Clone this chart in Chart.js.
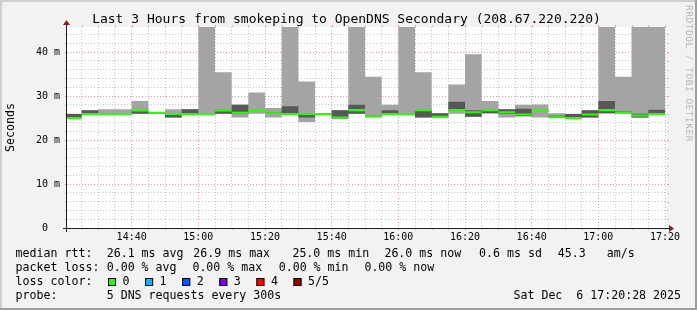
<!DOCTYPE html>
<html>
<head>
<meta charset="UTF-8">
<title>smokeping - OpenDNS Secondary</title>
<script src="https://cdn.jsdelivr.net/npm/chart.js@4.4.0/dist/chart.umd.min.js"></script>
<style>
  html, body { margin: 0; padding: 0; background: #f2f2f2; }
  canvas { display: block; }
</style>
</head>
<body>
<canvas id="graph" width="697" height="310"></canvas>
<script>
// one slot every 5 minutes, 5 DNS pings per slot sorted low -> high (ms)
const slots = ['14:20','14:25','14:30','14:35','14:40','14:45','14:50','14:55',
  '15:00','15:05','15:10','15:15','15:20','15:25','15:30','15:35',
  '15:40','15:45','15:50','15:55','16:00','16:05','16:10','16:15',
  '16:20','16:25','16:30','16:35','16:40','16:45','16:50','16:55',
  '17:00','17:05','17:10','17:15'];

const ping1  = [24.8,25.7,25.8,25.8,26.0,26.0,25.1,25.8,25.8,26.0,25.1,26.0,25.1,25.8,24.1,25.7,
                24.9,26.0,25.2,25.8,25.8,25.1,25.1,26.0,25.3,26.1,25.1,25.4,25.1,25.1,24.9,25.1,
                26.1,26.1,25.1,25.8];
const ping2  = [24.9,25.8,25.8,25.8,26.0,26.1,25.1,25.8,25.8,26.0,26.0,26.7,26.0,25.8,25.1,25.8,
                24.9,26.0,25.3,25.8,25.8,25.1,25.1,26.6,25.3,26.1,26.0,25.4,26.7,25.1,24.9,25.1,
                26.1,26.1,25.1,25.8];
const median = [25.0,25.9,25.9,25.9,26.7,26.2,25.9,25.9,25.9,26.7,26.2,26.8,26.1,25.9,25.9,25.9,
                25.1,26.8,25.4,25.9,25.9,26.8,25.3,26.8,26.3,26.8,26.3,25.8,26.8,25.2,25.0,25.8,
                26.8,26.2,25.6,25.9];
const ping4  = [25.9,26.8,26.0,26.0,26.8,26.3,26.1,27.0,26.1,26.9,28.0,26.9,26.3,27.7,26.1,26.0,
                26.8,28.0,25.6,26.8,26.1,26.9,26.1,28.7,26.8,26.9,27.0,27.1,27.0,25.5,25.9,26.8,
                28.9,26.5,26.0,26.9];
const ping5  = [25.9,26.8,27.0,27.0,28.9,26.4,27.0,27.0,48.0,35.4,28.0,30.8,27.3,48.0,33.3,26.1,
                26.8,48.0,34.4,28.0,48.0,35.4,26.1,32.6,39.5,28.9,27.0,28.0,28.1,26.1,25.9,26.8,
                48.0,34.4,48.0,48.0];

const xLabels = ['14:40','15:00','15:20','15:40','16:00','16:20','16:40','17:00','17:20'];
const yValues = [0, 10, 20, 30, 40];
const yLabels = ['0  ', '10 m', '20 m', '30 m', '40 m'];

const lossValues = ['0', '1', '2', '3', '4', '5/5'];
const lossColors = ['#26ff00', '#00b8ff', '#0059ff', '#7e00ff', '#ff0000', '#a10000'];

const statsRtt  = ['26.1 ms avg', '26.9 ms max', '25.0 ms min', '26.0 ms now', '0.6 ms sd', '45.3', 'am/s'];
const statsLoss = ['0.00 % avg', '0.00 % max', '0.00 % min', '0.00 % now'];

const STEP = 5;          // minutes per slot
const MED_HALF = 0.23;   // half thickness of the median band (ms)
const FONT = 'DejaVu Sans Mono';

function toMin(s) {
  const p = s.split(':').map(Number);
  return p[0] * 60 + p[1];
}
function steps(vals) {
  const pts = slots.map((s, i) => ({ x: toMin(s), y: vals[i] }));
  pts.push({ x: toMin(slots[slots.length - 1]) + STEP, y: vals[vals.length - 1] });
  return pts;
}

const majorX = xLabels.map(toMin);
const xStart = toMin(slots[0]) + 0.6;
const xEnd = xStart + 180;

function band(lo, hi, color, order) {
  const base = { stepped: true, pointRadius: 0, borderWidth: 1, borderColor: 'transparent', order: order };
  return [
    Object.assign({ data: steps(lo), fill: false }, base),
    Object.assign({ data: steps(hi), fill: '-1', backgroundColor: color }, base)
  ];
}

const datasets = [].concat(
  band(ping1, ping5, '#a4a4a4', 3),
  band(ping2, ping4, '#585858', 2),
  band(median.map(v => v - MED_HALF), median.map(v => v + MED_HALF), '#26ff00', 1)
);

const gridGrey = 'rgba(143,143,143,0.5)';
const gridRed = 'rgba(222,79,79,0.55)';

const rrdLook = {
  id: 'rrdLook',
  beforeDraw(chart) {
    const c = chart.ctx, a = chart.chartArea;
    c.save();
    c.fillStyle = '#f2f2f2';
    c.fillRect(0, 0, chart.width, chart.height);
    // bevel frame
    c.fillStyle = '#cfcfcf';
    c.fillRect(0, 0, chart.width, 2);
    c.fillRect(0, 0, 2, chart.height);
    c.fillStyle = '#9e9e9e';
    c.fillRect(0, chart.height - 2, chart.width, 2);
    c.fillRect(chart.width - 2, 0, 2, chart.height);
    c.fillStyle = '#ffffff';
    c.fillRect(a.left, a.top, a.right - a.left, a.bottom - a.top);
    c.restore();
  },
  afterDraw(chart) {
    const c = chart.ctx, a = chart.chartArea;
    const xs = chart.scales.x, ys = chart.scales.y;
    c.save();

    // little tick marks on the frame
    c.lineWidth = 1;
    xs.ticks.forEach(t => {
      const px = Math.round(xs.getPixelForValue(t.value)) + 0.5;
      c.strokeStyle = majorX.includes(t.value) ? gridRed : gridGrey;
      c.beginPath();
      c.moveTo(px, a.bottom); c.lineTo(px, a.bottom + 2);
      c.moveTo(px, a.top); c.lineTo(px, a.top - 2);
      c.stroke();
    });
    ys.ticks.forEach(t => {
      const py = Math.round(ys.getPixelForValue(t.value)) + 0.5;
      c.strokeStyle = yValues.includes(t.value) ? gridRed : gridGrey;
      c.beginPath();
      c.moveTo(a.left - 2, py); c.lineTo(a.left, py);
      c.moveTo(a.right, py); c.lineTo(a.right + 2, py);
      c.stroke();
    });

    // axes with arrows
    c.strokeStyle = '#1f1f1f';
    c.beginPath();
    c.moveTo(a.left - 4, a.bottom + 0.5); c.lineTo(a.right + 4, a.bottom + 0.5);
    c.moveTo(a.left - 0.5, a.bottom + 4); c.lineTo(a.left - 0.5, a.top - 4);
    c.stroke();
    c.fillStyle = '#7f1f1f';
    c.beginPath();
    c.moveTo(a.right + 2, a.bottom - 3); c.lineTo(a.right + 2, a.bottom + 4); c.lineTo(a.right + 7, a.bottom + 0.5);
    c.closePath(); c.fill();
    c.beginPath();
    c.moveTo(a.left - 4, a.top - 2); c.lineTo(a.left + 3, a.top - 2); c.lineTo(a.left - 0.5, a.top - 7);
    c.closePath(); c.fill();

    // title
    c.fillStyle = '#000';
    c.textBaseline = 'middle';
    c.textAlign = 'center';
    c.font = '13px "' + FONT + '"';
    c.fillText('Last 3 Hours from smokeping to OpenDNS Secondary (208.67.220.220)', 346.5, 19.5);

    c.font = '11.6px "' + FONT + '"';
    // vertical axis title
    c.save();
    c.translate(11, 127.5);
    c.rotate(-Math.PI / 2);
    c.fillText('Seconds', 0, 0);
    c.restore();

    // legend
    c.textAlign = 'left';
    const rttX = [106.7, 193.3, 292.4, 384.4, 479.1, 557.8, 606.7];
    c.fillText('median rtt:', 15.6, 254);
    statsRtt.forEach((s, i) => c.fillText(s, rttX[i], 254));
    const lossX = [106.7, 192.4, 278.7, 364.4];
    c.fillText('packet loss:', 15.6, 268);
    statsLoss.forEach((s, i) => c.fillText(s, lossX[i], 268));
    c.fillText('loss color:', 15.6, 282);
    lossValues.forEach((s, i) => {
      const bx = 108 + i * 37.1;
      c.fillStyle = lossColors[i];
      c.fillRect(bx, 278, 8, 8);
      c.strokeStyle = '#000';
      c.strokeRect(bx + 0.5, 278.5, 7, 7);
      c.fillStyle = '#000';
      c.fillText(s, bx + 14.5, 282);
    });
    c.fillText('probe:', 15.6, 296.3);
    c.fillText('5 DNS requests every 300s', 106.7, 296.3);
    c.textAlign = 'right';
    c.fillText('Sat Dec  6 17:20:28 2025', 681, 296.3);

    // watermark
    c.save();
    c.translate(688, 73.5);
    c.rotate(Math.PI / 2);
    c.textAlign = 'center';
    c.fillStyle = '#b4b4b4';
    c.font = '9.5px "' + FONT + '"';
    c.letterSpacing = '0.5px';
    c.fillText('RRDTOOL / TOBI OETIKER', 0, 0);
    c.restore();

    c.restore();
  }
};

new Chart(document.getElementById('graph'), {
  type: 'line',
  data: { datasets: datasets },
  options: {
    responsive: false,
    animation: false,
    events: [],
    layout: { padding: { left: 0, top: 27, right: 30, bottom: 0 } },
    plugins: { legend: { display: false }, tooltip: { enabled: false }, title: { display: false } },
    scales: {
      x: {
        type: 'linear',
        min: xStart,
        max: xEnd,
        afterBuildTicks: s => {
          s.ticks = [];
          for (let m = toMin(slots[1]); m <= xEnd; m += STEP) s.ticks.push({ value: m });
        },
        afterFit: s => { s.height = 82; },
        ticks: {
          autoSkip: false,
          maxRotation: 0,
          padding: 3,
          color: '#000',
          font: { family: FONT, size: 10 },
          callback: v => majorX.includes(v) ? xLabels[majorX.indexOf(v)] : ''
        },
        grid: {
          drawTicks: false,
          lineWidth: 1,
          color: ctx => majorX.includes(ctx.tick.value) ? gridRed : gridGrey
        },
        border: { display: false, dash: [1, 2] }
      },
      y: {
        min: 0,
        max: 45.7,
        afterBuildTicks: s => {
          s.ticks = [];
          for (let v = 0; v <= 44; v += 2) s.ticks.push({ value: v });
        },
        afterFit: s => { s.width = 67; },
        ticks: {
          autoSkip: false,
          padding: 7,
          color: '#000',
          font: { family: FONT, size: 10 },
          callback: v => yValues.includes(v) ? yLabels[yValues.indexOf(v)] : ''
        },
        grid: {
          drawTicks: false,
          lineWidth: 1,
          color: ctx => yValues.includes(ctx.tick.value) ? gridRed : gridGrey
        },
        border: { display: false, dash: [1, 2] }
      }
    }
  },
  plugins: [rrdLook]
});
</script>
</body>
</html>
